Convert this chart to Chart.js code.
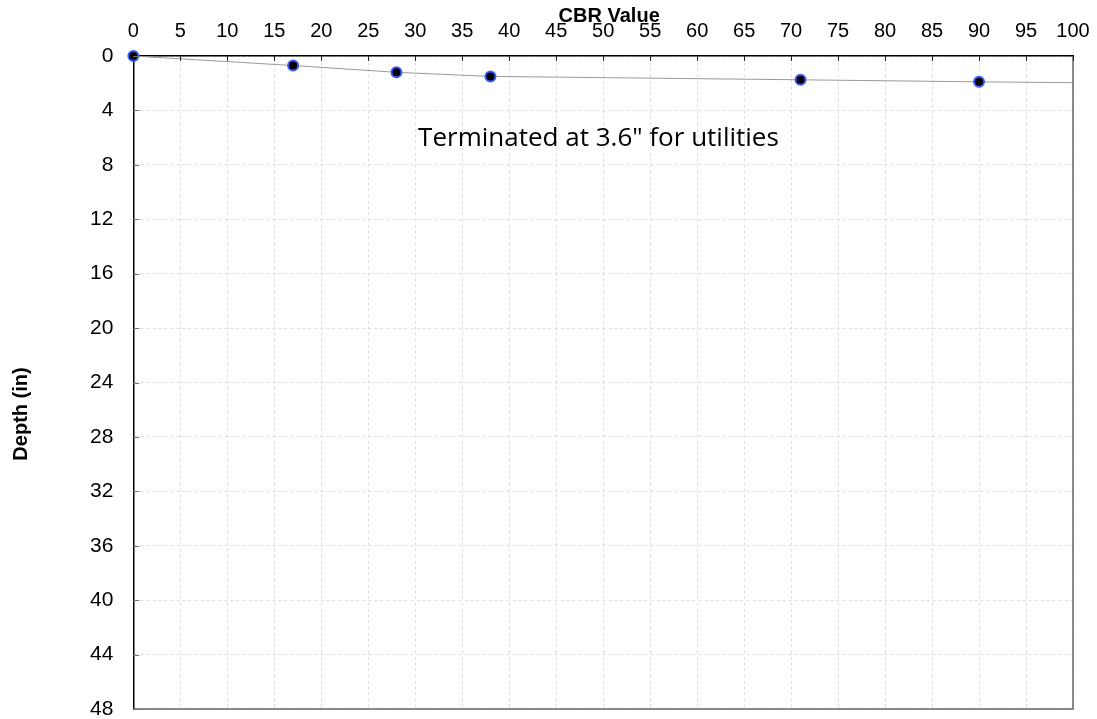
<!DOCTYPE html>
<html>
<head>
<meta charset="utf-8">
<script src="https://cdn.jsdelivr.net/npm/chart.js@4.4.1/dist/chart.umd.min.js"></script>
<style>
  html, body { margin: 0; padding: 0; background: #fff; }
  #wrap { width: 1097px; height: 719px; }
</style>
</head>
<body>
<div id="wrap"><canvas id="cbr"></canvas></div>
<script>
// Точки замеров (CBR / глубина)
const cbrValues   = [0, 17, 28, 38, 71, 90];
const depthValues = [0, 0.7, 1.2, 1.5, 1.75, 1.9];

// Линия профиля тянется до правого края
const lineCbr   = [0, 17, 28, 38, 71, 90, 100];
const lineDepth = [0, 0.7, 1.2, 1.5, 1.75, 1.9, 1.96];

// Подписи
const xTitle   = 'CBR Value';
const yTitle   = 'Depth (in)';
const noteText = 'Terminated at 3.6" for utilities';
const notePos  = [49.5, 6.1];

const toXY = (xs, ys) => xs.map((x, i) => ({ x: x, y: ys[i] }));

// Chart.js добавляет поля под крайние подписи — здесь они не нужны
function noEdgePadding(scale) {
    scale.paddingTop = 0;
    scale.paddingBottom = 0;
    scale.paddingLeft = 0;
    scale.paddingRight = 0;
}

// Рамка справа/снизу, риски внутрь, заголовки осей и примечание
const framePlugin = {
    id: 'frame',
    afterDraw(chart) {
        const { ctx, chartArea: a, scales } = chart;
        ctx.save();
        ctx.strokeStyle = '#666';
        ctx.lineWidth = 1.5;
        ctx.beginPath();
        ctx.moveTo(a.right, a.top);
        ctx.lineTo(a.right, a.bottom);
        ctx.lineTo(a.left, a.bottom);
        ctx.stroke();

        ctx.lineWidth = 1;
        ctx.strokeStyle = '#222';
        scales.x.ticks.forEach(t => {
            const px = Math.round(scales.x.getPixelForValue(t.value)) + 0.5;
            ctx.beginPath();
            ctx.moveTo(px, a.top);
            ctx.lineTo(px, a.top + 5);
            ctx.stroke();
        });
        ctx.strokeStyle = '#777';
        scales.y.ticks.forEach(t => {
            const py = Math.round(scales.y.getPixelForValue(t.value)) + 0.5;
            ctx.beginPath();
            ctx.moveTo(a.left, py);
            ctx.lineTo(a.left + 6, py);
            ctx.stroke();
        });

        ctx.fillStyle = '#000';
        ctx.textAlign = 'center';
        ctx.textBaseline = 'middle';

        // примечание
        ctx.font = '26px "Open Sans", "Liberation Sans", sans-serif';
        ctx.fillText(noteText,
            scales.x.getPixelForValue(notePos[0]),
            scales.y.getPixelForValue(notePos[1]));

        // заголовки осей (налезают на подписи, как в оригинале)
        ctx.font = 'bold 20px "Liberation Sans", Arial, sans-serif';
        ctx.fillText(xTitle, (a.left + a.right) / 2 + 6, 16);

        ctx.translate(21, 414);
        ctx.rotate(-Math.PI / 2);
        ctx.fillText(yTitle, 0, 0);
        ctx.restore();
    }
};

new Chart(document.getElementById('cbr'), {
    type: 'scatter',
    data: {
        datasets: [
            {
                label: 'profile',
                data: toXY(lineCbr, lineDepth),
                showLine: true,
                borderColor: '#9a9a9a',
                borderWidth: 1,
                pointRadius: 0,
                clip: false,
                order: 2
            },
            {
                label: 'CBR',
                data: toXY(cbrValues, depthValues),
                showLine: false,
                pointRadius: 5,
                pointBorderWidth: 2,
                pointBackgroundColor: '#000',
                pointBorderColor: '#3a5cff',
                clip: false,
                order: 1
            }
        ]
    },
    plugins: [framePlugin],
    options: {
        responsive: true,
        maintainAspectRatio: false,
        animation: false,
        layout: { autoPadding: false, padding: { top: 6, right: 24, bottom: 10, left: 70 } },
        plugins: {
            legend: { display: false },
            tooltip: { enabled: false }
        },
        scales: {
            x: {
                type: 'linear',
                position: 'top',
                min: 0, max: 100,
                afterFit: noEdgePadding,
                ticks: {
                    stepSize: 5,
                    color: '#000',
                    padding: 13,
                    maxRotation: 0,
                    autoSkip: false,
                    font: { family: 'Liberation Sans, Arial, sans-serif', size: 20 }
                },
                grid: { color: '#dcdcdc', drawTicks: false },
                border: { color: '#000', width: 1.5, dash: [3, 3] }
            },
            y: {
                type: 'linear',
                reverse: true,
                min: 0, max: 48,
                afterFit: noEdgePadding,
                ticks: {
                    stepSize: 4,
                    color: '#000',
                    padding: 20,
                    font: { family: 'Liberation Sans, Arial, sans-serif', size: 21 }
                },
                grid: { color: '#dcdcdc', drawTicks: false },
                border: { color: '#000', width: 1.5, dash: [3, 3] }
            }
        }
    }
});
</script>
</body>
</html>
